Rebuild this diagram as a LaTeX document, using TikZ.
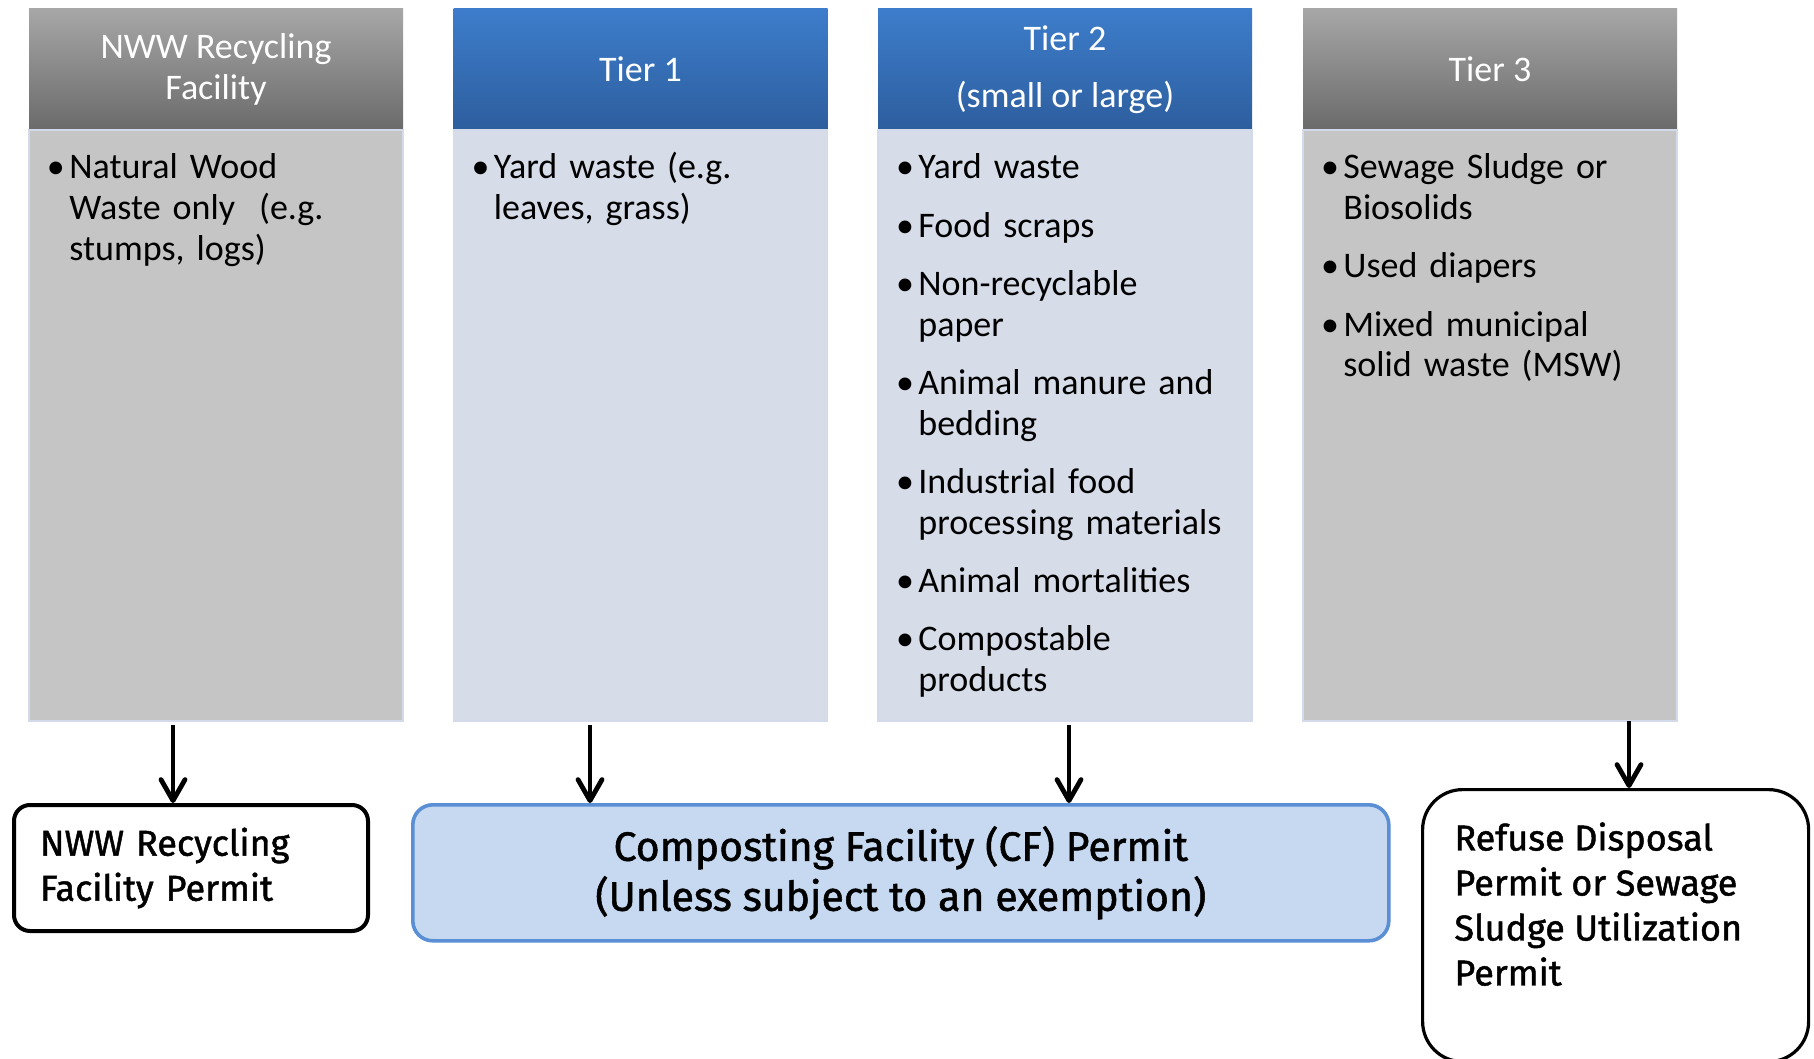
\documentclass[tikz,border=0pt]{standalone}
\usepackage{fontspec}
\setmainfont{Carlito}
\newfontfamily\permitfont[FakeBold=1.3]{Fira Sans}
\usetikzlibrary{positioning,arrows.meta}

\definecolor{hdgraytop}{HTML}{A7A7A7}
\definecolor{hdgraybot}{HTML}{6A6A6A}
\definecolor{hdbluetop}{HTML}{3D7DCB}
\definecolor{hdbluebot}{HTML}{2D5E9E}
\definecolor{bodygray}{HTML}{C5C5C5}
\definecolor{bodyblue}{HTML}{D6DCE8}
\definecolor{coledge}{HTML}{D3DBEA}
\definecolor{cffill}{HTML}{C6D9F0}
\definecolor{cfedge}{HTML}{5A8ED5}

% bullet with hanging indent
\newcommand{\bul}{\par\hangindent=10pt\hangafter=1\noindent\makebox[10pt][l]{\hspace*{-1.2pt}\textbullet}}

\tikzset{
  hdr/.style={minimum width=187pt, minimum height=60.5pt, inner sep=0pt, outer sep=0pt,
    text=white, align=center, font=\fontsize{18}{20.25}\selectfont},
  hdrgray/.style={hdr, top color=hdgraytop, bottom color=hdgraybot},
  hdrblue/.style={hdr, top color=hdbluetop, bottom color=hdbluebot},
  colbody/.style={minimum width=187pt, minimum height=295.5pt, inner sep=0pt, outer sep=0pt,
    draw=coledge, line width=0.6pt},
  items/.style={anchor=north west, inner sep=0pt, text width=174pt, align=left,
    font=\fontsize{18}{20.4}\selectfont\setlength{\parskip}{8.7pt}},
  permit/.style={draw, line width=2pt, rounded corners=8pt, align=left,
    font=\permitfont\fontsize{18}{22.5}\selectfont},
  flow/.style={-{Straight Barb[length=10.5pt,width=12pt,line width=2.4pt,round]}, line width=2.4pt},
}

\begin{document}
\begin{tikzpicture}[x=0.5pt,y=-0.5pt]
\useasboundingbox (0,0) rectangle (1814,1059);

% Columns
\node[hdrgray, anchor=north west] (nwwhead) at (29,9) {NWW Recycling\\Facility};
\node[colbody, fill=bodygray, below=0pt of nwwhead] (nwwbody) {};
\node[hdrblue, anchor=north west] (t1head) at (453.5,9) {Tier 1};
\node[colbody, fill=bodyblue, below=0pt of t1head] (t1body) {};
\node[hdrblue, anchor=north west] (t2head) at (878,9) {Tier 2\\[8pt](small or large)};
\node[colbody, fill=bodyblue, below=0pt of t2head] (t2body) {};
\node[hdrgray, anchor=north west] (t3head) at (1303,9) {Tier 3};
\node[colbody, fill=bodygray, below=0pt of t3head] (t3body) {};

% Column contents
\node[items] (nwwitems) at ([xshift=10pt,yshift=4.8pt]nwwbody.north west)
  {\bul Natural Wood\newline Waste only\ \ (e.g.\newline stumps, logs)\par};
\node[items] (t1items) at ([xshift=10pt,yshift=4.8pt]t1body.north west)
  {\bul Yard waste (e.g.\newline leaves, grass)\par};
\node[items] (t2items) at ([xshift=10pt,yshift=4.8pt]t2body.north west)
  {\bul Yard waste
   \bul Food scraps
   \bul Non-recyclable\newline paper
   \bul Animal manure and\newline bedding
   \bul Industrial food\newline processing materials
   \bul Animal mortalities
   \bul Compostable\newline products\par};
\node[items] (t3items) at ([xshift=10pt,yshift=4.8pt]t3body.north west)
  {\bul Sewage Sludge or\newline Biosolids
   \bul Used diapers
   \bul Mixed municipal\newline solid waste (MSW)\par};

% Permits
\node[permit, anchor=north west, minimum height=63pt, text width=151pt, inner xsep=13pt]
  (nwwpermit) at (12,803) {NWW Recycling\\Facility Permit};
\node[permit, anchor=north west, draw=cfedge, fill=cffill, line width=1.8pt, rounded corners=10pt,
  align=center, minimum width=488pt, minimum height=68pt,
  font=\permitfont\fontsize{20.5}{25}\selectfont] (cfpermit) at (411,803)
  {Composting Facility (CF) Permit\\(Unless subject to an exemption)};
\node[permit, anchor=north west, line width=1.6pt, rounded corners=20pt,
  minimum width=193pt, minimum height=136pt] (refpermit) at (1421,788) {};
\node[anchor=north west, inner sep=0pt, align=left, font=\permitfont\fontsize{18}{22.5}\selectfont]
  (reftext) at ([xshift=16.5pt,yshift=-17pt]refpermit.north west)
  {Refuse Disposal\\Permit or Sewage\\Sludge Utilization\\Permit};

% Arrows
\coordinate (ax1) at (173,0);
\coordinate (ax2) at (590,0);
\coordinate (ax3) at (1069,0);
\coordinate (ax4) at (1629,0);
\draw[flow, shorten <=2pt] (nwwbody.south -| ax1) -- (nwwpermit.north -| ax1);
\draw[flow, shorten <=2pt] (t1body.south -| ax2) -- (cfpermit.north -| ax2);
\draw[flow, shorten <=2pt] (t2body.south -| ax3) -- (cfpermit.north -| ax3);
\draw[flow] (t3body.south -| ax4) -- (refpermit.north -| ax4);

\end{tikzpicture}
\end{document}
